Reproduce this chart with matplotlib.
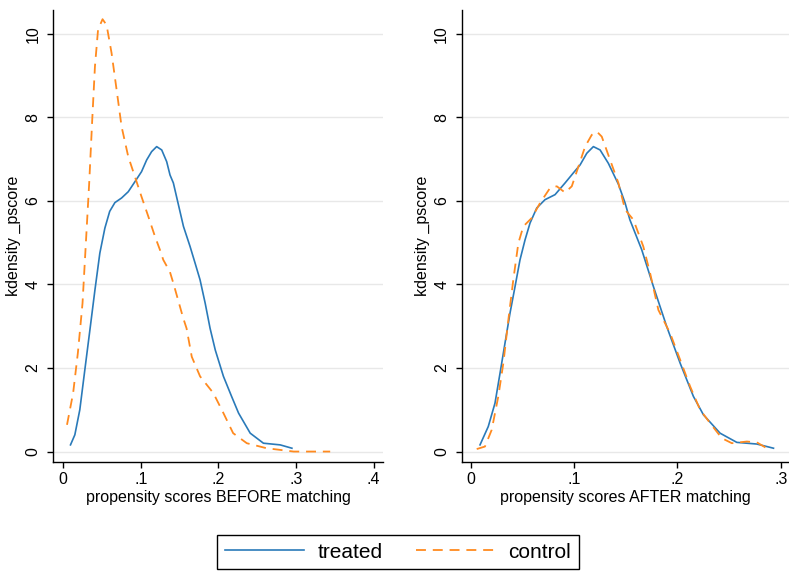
import matplotlib.pyplot as plt

# kernel density of propensity scores
before_treated_x = [0.0095, 0.0151, 0.0215, 0.028, 0.0345, 0.041, 0.0473, 0.0538, 0.060, 0.0667,
                    0.0753, 0.0839, 0.0925, 0.101, 0.1076, 0.114, 0.1205, 0.127, 0.1334, 0.1377,
                    0.142, 0.148, 0.155, 0.1635, 0.170, 0.1764, 0.183, 0.1893, 0.196, 0.2065,
                    0.217, 0.226, 0.241, 0.258, 0.2796, 0.2947]
before_treated_y = [0.16, 0.40, 1.0, 1.96, 2.91, 3.87, 4.75, 5.35, 5.75, 5.96,
                    6.07, 6.22, 6.46, 6.70, 6.98, 7.18, 7.30, 7.22, 6.94, 6.62,
                    6.43, 5.95, 5.39, 4.91, 4.51, 4.11, 3.55, 2.95, 2.43, 1.80,
                    1.32, 0.92, 0.44, 0.20, 0.16, 0.08]

before_control_x = [0.005, 0.0129, 0.019, 0.025, 0.0293, 0.0336, 0.0375, 0.041, 0.045, 0.0508,
                    0.056, 0.0624, 0.0689, 0.0753, 0.0839, 0.0925, 0.101, 0.1097, 0.1183, 0.1247,
                    0.129, 0.1376, 0.142, 0.1546, 0.159, 0.1657, 0.1764, 0.1935, 0.2065, 0.219,
                    0.2366, 0.262, 0.297, 0.344]
before_control_y = [0.64, 1.40, 2.36, 3.55, 4.99, 6.43, 7.94, 9.22, 10.10, 10.35,
                    10.21, 9.54, 8.66, 7.78, 7.06, 6.58, 6.10, 5.63, 5.15, 4.83,
                    4.59, 4.30, 4.03, 3.20, 2.95, 2.27, 1.80, 1.40, 0.92, 0.44,
                    0.20, 0.08, 0.0, 0.0]

after_treated_x = [0.009, 0.017, 0.0235, 0.0284, 0.0332, 0.038, 0.0429, 0.0477, 0.0526, 0.0574,
                   0.0639, 0.0719, 0.0816, 0.0913, 0.0993, 0.1058, 0.1123, 0.1187, 0.1252, 0.1332,
                   0.1429, 0.1494, 0.154, 0.1655, 0.1768, 0.1897, 0.2026, 0.2155, 0.2252, 0.2413,
                   0.2575, 0.2769, 0.293]
after_treated_y = [0.16, 0.60, 1.16, 1.88, 2.60, 3.31, 3.95, 4.59, 5.07, 5.47,
                   5.83, 6.03, 6.15, 6.43, 6.67, 6.86, 7.14, 7.30, 7.22, 6.90,
                   6.40, 5.95, 5.55, 4.83, 3.95, 2.99, 2.12, 1.32, 0.88, 0.44,
                   0.22, 0.18, 0.08]

after_control_x = [0.0058, 0.0138, 0.0203, 0.0267, 0.0316, 0.0364, 0.0412, 0.0461, 0.0509, 0.059,
                   0.0671, 0.0768, 0.0833, 0.0913, 0.0978, 0.1042, 0.1107, 0.1171, 0.122, 0.1268,
                   0.1349, 0.1429, 0.1494, 0.1574, 0.167, 0.1736, 0.1816, 0.193, 0.2026, 0.2123,
                   0.222, 0.2317, 0.243, 0.2527, 0.2672, 0.2769, 0.2865]
after_control_y = [0.06, 0.12, 0.52, 1.32, 2.12, 3.15, 4.11, 4.99, 5.39, 5.59,
                   5.95, 6.31, 6.35, 6.20, 6.35, 6.82, 7.30, 7.58, 7.66, 7.54,
                   6.98, 6.43, 5.79, 5.55, 4.91, 4.27, 3.39, 2.83, 2.20, 1.56,
                   1.00, 0.68, 0.32, 0.20, 0.24, 0.22, 0.08]

yticks = [0, 2, 4, 6, 8, 10]
before_xticks = [0, 0.1, 0.2, 0.3, 0.4]
before_xlabels = ['0', '.1', '.2', '.3', '.4']
after_xticks = [0, 0.1, 0.2, 0.3]
after_xlabels = ['0', '.1', '.2', '.3']

blue = '#2a7ab9'
orange = '#ff8a1f'

plt.rcParams['font.family'] = ['Liberation Sans', 'DejaVu Sans']
plt.rcParams['font.size'] = 11.5

fig = plt.figure(figsize=(7.89, 5.72), dpi=100)
ax1 = fig.add_axes([0.0672, 0.1923, 0.4182, 0.7902])
ax2 = fig.add_axes([0.5852, 0.1923, 0.4148, 0.7902])

panels = [
    (ax1, before_treated_x, before_treated_y, before_control_x, before_control_y,
     before_xticks, before_xlabels, (-0.013, 0.412), 'propensity scores BEFORE matching'),
    (ax2, after_treated_x, after_treated_y, after_control_x, after_control_y,
     after_xticks, after_xlabels, (-0.0087, 0.308), 'propensity scores AFTER matching'),
]

for ax, tx, ty, cx, cy, xt, xl, xlim, xlab in panels:
    l1, = ax.plot(tx, ty, color=blue, lw=1.2, label='treated')
    l2, = ax.plot(cx, cy, color=orange, lw=1.3, linestyle=(0, (5.5, 3.8)), label='control')
    ax.set_xlim(*xlim)
    ax.set_ylim(-0.25, 10.57)
    ax.set_yticks(yticks)
    ax.set_yticklabels([str(v) for v in yticks], rotation=90, va='center')
    ax.set_xticks(xt)
    ax.set_xticklabels(xl)
    ax.grid(axis='y', color='#e8e8e8', lw=1)
    ax.set_axisbelow(True)
    for s in ['top', 'right']:
        ax.spines[s].set_visible(False)
    for s in ['left', 'bottom']:
        ax.spines[s].set_linewidth(1.0)
    ax.tick_params(axis='x', length=4, width=1, pad=3)
    ax.tick_params(axis='y', length=4, width=1, pad=5)
    ax.set_xlabel(xlab, labelpad=2)
    ax.set_ylabel('kdensity _pscore', labelpad=3)

leg = fig.legend([l1, l2], ['treated', 'control'], loc='center',
                 bbox_to_anchor=(398 / 789, 1 - 552 / 572), ncol=2, fontsize=15,
                 frameon=True, fancybox=False, edgecolor='black', framealpha=1,
                 handlelength=3.8, handletextpad=0.65, columnspacing=1.6,
                 borderpad=0.35, borderaxespad=0)
leg.get_frame().set_linewidth(1.0)

fig.savefig('out.png', dpi=100)
